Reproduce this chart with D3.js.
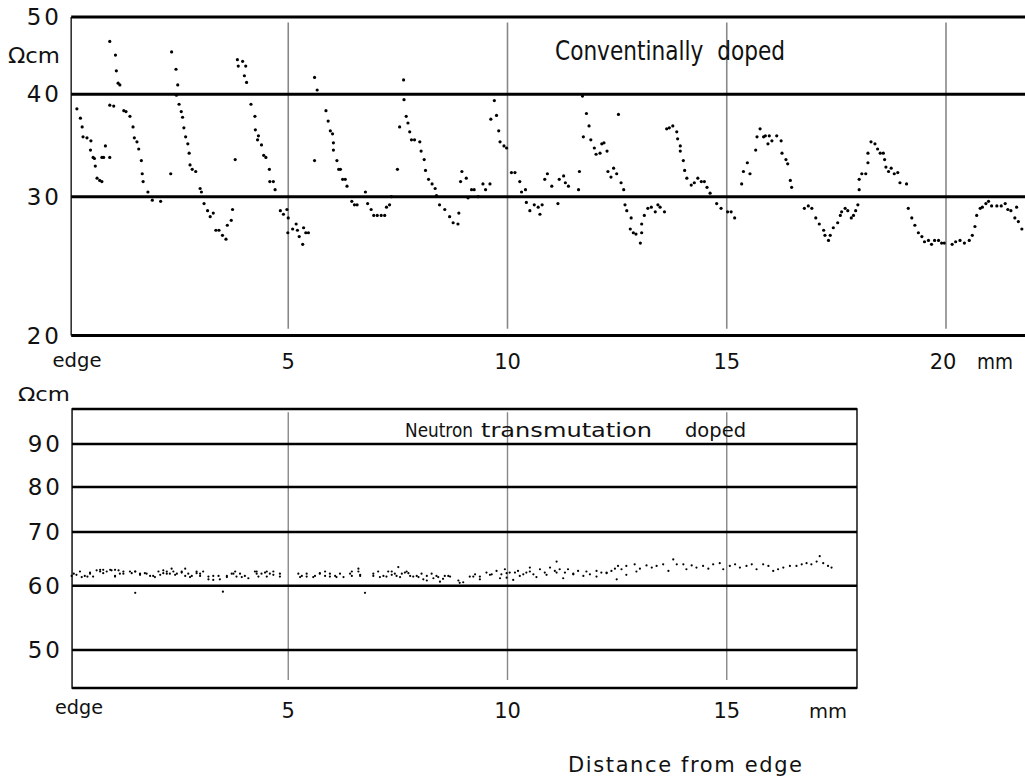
<!DOCTYPE html>
<html>
<head>
<meta charset="utf-8">
<script src="https://cdn.jsdelivr.net/npm/d3@7"></script>
<style>
  body { margin: 0; background: #fff; }
  svg text { font-family: "DejaVu Sans", sans-serif; fill: #111; }
</style>
</head>
<body>
<div id="chart"></div>
<script>
// Conventionally doped crystal: distance from edge (mm) and resistivity (Ωcm)
const convX = [0.18, 0.26, 0.30, 0.32, 0.41, 0.50, 0.49, 0.55, 0.58, 0.60, 0.64, 0.70, 0.75, 0.75, 0.79, 0.83, 0.93,
  0.93, 1.06, 1.08, 1.12, 1.16, 0.93, 1.02, 1.25, 1.30, 1.39, 1.46, 1.49, 1.55, 1.59, 1.65, 1.67, 1.69, 1.80, 1.90, 2.09,
  2.32, 2.34, 2.44, 2.48, 2.45, 2.51, 2.56, 2.59, 2.62, 2.66, 2.71, 2.74, 2.76, 2.81, 2.89, 2.99, 3.02, 3.08, 3.16, 3.22,
  3.29, 3.35, 3.42, 3.50, 3.58, 3.61, 3.70, 3.73, 3.79, 3.84, 3.86, 3.96, 4.03, 4.00, 4.05, 4.15, 4.24, 4.25, 4.32, 4.30,
  4.39, 4.44, 4.49, 4.57, 4.58, 4.66, 4.70, 4.82, 4.89, 4.97, 4.99, 5.00, 5.10, 5.18, 5.21, 5.25, 5.33, 5.35, 5.40, 5.46,
  5.60, 5.66, 5.60, 5.86, 5.91, 5.96, 6.01, 6.03, 6.03, 6.11, 6.15, 6.19, 6.24, 6.30, 6.34, 6.45, 6.51, 6.57, 6.76, 6.81,
  6.89, 6.95, 7.03, 7.12, 7.20, 7.24, 7.31, 7.35, 7.49, 7.54, 7.63, 7.64, 7.69, 7.73, 7.77, 7.81, 7.88, 8.00, 8.03, 8.10,
  8.13, 8.20, 8.28, 8.35, 8.38, 8.45, 8.57, 8.68, 8.76, 8.87, 8.89, 8.93, 8.96, 9.06, 9.10, 9.18, 9.24, 9.33, 9.44, 9.50,
  9.60, 9.62, 9.70, 9.75, 9.80, 9.83, 9.92, 9.98, 10.09, 10.17, 10.28, 10.32, 10.41, 10.43, 10.51, 10.61, 10.70, 10.74,
  10.79, 10.85, 10.91, 11.01, 11.15, 11.18, 11.28, 11.32, 11.39, 11.62, 11.64, 11.73, 11.71, 11.80, 11.86, 11.90, 11.98,
  12.02, 12.11, 12.15, 12.20, 12.27, 12.29, 12.36, 12.42, 12.49, 12.53, 12.59, 12.65, 12.68, 12.72, 12.82, 12.80, 12.87,
  12.93, 13.03, 13.06, 13.06, 13.12, 13.20, 13.28, 13.37, 13.43, 13.48, 13.58, 13.63, 13.69, 13.77, 13.86, 13.88, 13.94,
  13.94, 14.01, 14.04, 14.09, 14.19, 14.26, 14.34, 14.42, 14.49, 14.55, 14.62, 14.77, 14.87, 15.02, 15.10, 15.18, 15.34,
  15.38, 15.47, 15.53, 15.66, 15.69, 15.76, 15.84, 15.88, 15.94, 15.97, 16.03, 16.14, 16.24, 16.26, 16.35, 16.39, 16.45,
  16.48, 16.77, 16.86, 16.94, 17.03, 17.11, 17.21, 17.24, 17.32, 17.36, 17.43, 17.53, 17.59, 17.62, 17.70, 17.76, 17.84,
  17.89, 17.94, 17.99, 18.02, 18.02, 18.08, 18.17, 18.22, 18.22, 18.29, 18.38, 18.44, 18.50, 18.57, 18.60, 18.63, 18.69,
  18.75, 18.82, 18.90, 18.95, 19.10, 19.14, 19.22, 19.29, 19.37, 19.45, 19.51, 19.60, 19.67, 19.74, 19.83, 19.90, 19.96,
  20.14, 20.22, 20.32, 20.42, 20.53, 20.60, 20.66, 20.70, 20.78, 20.83, 20.91, 20.97, 21.04, 21.16, 21.26, 21.35, 21.41,
  21.48, 21.57, 21.61, 21.65, 21.73];
const convY = [38.4, 37.4, 36.5, 35.5, 35.4, 35.1, 34.2, 33.5, 33.4, 32.7, 31.6, 31.4, 31.3, 33.5, 33.5, 34.6, 33.5,
  46.6, 44.8, 42.8, 41.3, 41.1, 38.8, 38.7, 38.2, 38.1, 37.6, 36.5, 35.4, 35.0, 34.3, 33.2, 32.0, 31.3, 30.4, 29.7, 29.6,
  32.0, 45.2, 43.0, 41.1, 39.9, 38.9, 38.1, 37.5, 36.4, 35.5, 34.8, 33.9, 32.8, 32.4, 32.2, 30.7, 30.4, 29.4, 28.8, 28.3,
  28.6, 27.2, 27.2, 26.8, 26.5, 27.6, 28.0, 28.9, 33.3, 44.2, 43.4, 44.0, 43.4, 42.2, 41.4, 38.9, 37.6, 36.2, 35.6, 35.2,
  34.7, 33.7, 33.5, 32.4, 31.3, 31.3, 30.6, 28.8, 28.5, 28.9, 27.0, 28.2, 27.3, 27.7, 27.2, 26.7, 26.1, 27.4, 27.0, 27.0,
  42.0, 40.5, 33.2, 38.2, 37.1, 36.1, 35.8, 34.9, 34.2, 33.2, 32.4, 32.4, 31.5, 31.5, 30.9, 29.6, 29.3, 29.3, 30.4, 29.4,
  28.9, 28.4, 28.4, 28.4, 28.4, 29.1, 29.3, 30.0, 32.4, 36.5, 41.7, 39.4, 37.6, 36.9, 36.0, 35.2, 35.2, 35.0, 34.1, 33.3,
  32.3, 31.5, 31.1, 30.7, 30.1, 29.3, 28.9, 28.3, 27.8, 27.7, 28.6, 31.3, 32.2, 31.6, 29.9, 30.6, 30.6, 30.0, 31.1, 30.6,
  31.1, 37.3, 39.3, 37.7, 36.1, 35.0, 34.6, 34.4, 32.1, 32.1, 31.3, 30.4, 30.6, 29.5, 28.8, 29.3, 29.1, 28.5,
  29.3, 31.5, 32.0, 30.9, 29.4, 31.5, 31.8, 31.2, 30.9, 30.6, 32.2, 35.5, 39.8, 37.9, 36.6, 35.2, 34.4,
  33.8, 33.9, 34.8, 34.9, 34.1, 32.2, 31.7, 32.5, 32.0, 37.8, 31.2, 30.6, 29.3, 28.8, 28.2, 27.3, 27.0,
  26.9, 26.2, 27.0, 27.7, 28.4, 29.0, 29.1, 28.7, 29.3, 29.1, 28.7, 36.3, 36.4, 36.6, 36.0, 35.3, 34.6,
  34.1, 33.2, 32.3, 31.6, 31.0, 31.2, 31.6, 31.3, 31.3, 30.8, 30.3, 29.4, 29.0, 28.7, 28.7, 28.2, 31.1,
  32.2, 33.0, 32.0, 34.2, 35.5, 36.3, 35.5, 35.6, 34.8, 35.6, 35.1, 35.6, 35.1, 33.9, 33.3, 32.9, 31.4,
  30.8, 29.0, 29.2, 29.0, 28.2, 27.7, 27.2, 26.8, 26.4, 26.8, 27.4, 27.8, 28.4, 28.7, 29.0, 28.8, 28.2,
  28.4, 28.8, 29.3, 30.6, 31.5, 32.0, 32.0, 33.0, 33.9, 35.0, 34.8, 34.3, 33.9, 33.9, 33.3, 32.6, 32.2,
  32.5, 32.0, 32.1, 31.2, 31.1, 29.0, 28.2, 27.6, 27.0, 26.7, 26.3, 26.4, 26.1, 26.4, 26.4, 26.2, 26.2,
  26.1, 26.3, 26.4, 26.2, 26.4, 26.8, 27.5, 28.4, 29.0, 29.1, 29.4, 29.6, 29.2, 29.2, 29.2, 29.4, 28.9,
  28.8, 28.2, 29.1, 27.9, 27.3];

// Neutron transmutation doped crystal (upper scan row)
const ntdX = [0.11, 0.25, 0.36, 0.48, 0.63, 0.71, 0.78, 0.86, 0.97, 1.05, 1.05, 1.13, 1.24, 1.39, 1.51, 1.51, 1.62, 1.77,
  1.92, 2.04, 2.15, 2.23, 2.34, 2.38, 2.46, 2.57, 2.65, 2.72, 2.80, 2.91, 2.99, 3.18, 3.29, 3.41, 3.51, 3.60, 3.71, 3.79,
  3.90, 4.01, 4.24, 4.28, 4.39, 4.51, 4.58, 4.66, 4.81, 5.23, 5.31, 5.42, 5.61, 5.72, 5.84, 5.95, 6.07, 6.18, 6.41, 6.45,
  6.60, 6.64, 6.75, 6.94, 7.05, 7.17, 7.28, 7.36, 7.43, 7.51, 7.59, 7.70, 7.78, 7.93, 8.04, 8.16, 8.27, 8.38, 8.53, 8.65,
  8.69, 8.88, 8.99, 9.14, 9.26, 9.37, 9.52, 9.64, 9.75, 9.86, 9.94, 9.98, 10.05, 10.17, 10.24, 10.36, 10.43, 10.51,
  10.59, 10.74, 10.85, 10.97, 11.08, 11.12, 11.19, 11.31, 11.38, 11.50, 11.61, 11.73, 11.88, 12.03, 12.14, 12.26, 12.37,
  12.45, 12.52, 12.60, 12.71, 12.90, 13.02, 13.17, 13.29, 13.40, 13.55, 13.67, 13.78, 13.86, 14.01, 14.08, 14.20, 14.31,
  14.46, 14.58, 14.69, 14.84, 14.92, 15.07, 15.19, 15.30, 15.45, 15.57, 15.68, 15.83, 15.95, 16.06, 16.17, 16.29, 16.44,
  16.59, 16.71, 16.82, 16.93, 17.05, 17.12, 17.20, 17.31, 17.39];
const ntdY = [62.1, 62.5, 61.7, 62.1, 62.7, 62.8, 62.8, 62.5, 62.7, 62.8, 61.6, 62.7, 62.1, 62.5, 62.5, 58.8, 62.1, 62.1,
  61.7, 62.5, 62.7, 62.1, 63.0, 62.5, 62.1, 62.5, 63.0, 62.1, 61.7, 62.5, 62.1, 61.6, 61.7, 61.7, 59.0, 61.7, 62.1, 62.5,
  62.1, 61.7, 62.5, 62.1, 62.1, 62.5, 62.1, 62.5, 62.1, 62.1, 61.7, 62.1, 61.7, 62.1, 62.5, 62.1, 61.7, 62.1, 62.1, 62.5,
  63.0, 61.7, 58.8, 62.1, 62.5, 61.7, 62.5, 62.5, 62.1, 63.3, 62.1, 62.5, 61.7, 61.7, 62.1, 61.7, 62.1, 61.7, 61.2, 61.7,
  61.6, 60.9, 60.6, 61.6, 62.0, 61.6, 62.3, 62.0, 62.6, 62.0, 62.9, 61.4, 62.3, 62.3, 62.6, 62.0, 62.3, 63.2,
  62.0, 62.9, 62.3, 63.2, 62.6, 64.3, 62.9, 62.3, 62.9, 62.0, 62.6, 61.7, 62.0, 62.6, 62.3, 62.3, 62.6,
  63.0, 63.5, 62.9, 63.5, 63.8, 63.0, 63.6, 63.2, 63.5, 63.8, 62.6, 64.7, 63.8, 63.8, 62.9, 63.6, 63.2,
  63.5, 63.0, 63.8, 64.0, 62.9, 63.5, 63.8, 63.2, 63.5, 63.8, 62.9, 63.8, 63.5, 62.6, 62.9, 63.2, 63.5,
  63.5, 63.8, 64.0, 63.8, 64.3, 65.3, 64.0, 63.5, 63.2];

// second (lower) scan row of the same crystal
const ntdX2 = [0.06, 0.17, 0.29, 0.42, 0.48, 0.55, 0.71, 0.78, 0.94, 1.05, 1.16, 1.24, 1.43, 1.51, 1.62, 1.73, 1.85, 1.96,
  2.08, 2.15, 2.23, 2.30, 2.42, 2.57, 2.65, 2.76, 2.91, 2.99, 3.06, 3.18, 3.29, 3.44, 3.60, 3.75, 3.82, 3.94, 4.09, 4.28,
  4.32, 4.47, 4.51, 4.66, 4.81, 5.27, 5.42, 5.57, 5.72, 5.84, 5.95, 6.10, 6.26, 6.45, 6.60, 6.64, 6.94, 7.09, 7.24, 7.36,
  7.47, 7.55, 7.66, 7.74, 7.85, 7.97, 8.08, 8.16, 8.31, 8.42, 8.57, 8.46, 8.91, 9.22, 9.37, 9.60, 9.83, 9.98, 10.13, 10.28,
  10.51, 10.66, 10.89, 11.12, 11.27, 11.50, 11.80, 12.03, 12.26, 12.49, 12.71, 12.94];
const ntdY2 = [61.7, 61.9, 61.5, 61.6, 62.3, 61.6, 62.5, 62.2, 62.8, 61.7, 62.1, 62.5, 62.2, 62.5, 61.9, 62.2, 61.7, 61.5,
  61.9, 62.2, 62.5, 62.1, 61.9, 62.3, 61.7, 61.5, 62.2, 61.7, 62.5, 61.1, 61.0, 61.1, 61.5, 62.1, 61.6, 61.5, 61.3, 62.5,
  61.6, 62.3, 61.6, 61.9, 61.6, 61.5, 61.6, 61.5, 62.2, 61.7, 61.6, 61.5, 61.5, 61.7, 62.5, 61.9, 61.7, 61.5, 61.6, 61.9,
  61.7, 61.5, 62.3, 62.2, 61.6, 61.5, 61.1, 60.9, 61.3, 61.5, 61.7, 60.7, 60.5, 61.6, 61.1, 61.9, 61.3, 62.2, 61.0, 61.7,
  62.5, 61.5, 61.9, 62.3, 61.3, 62.1, 62.5, 61.6, 62.2, 61.1, 61.9, 62.5];

const topTicks = [20, 30, 40, 50];
const bottomTicks = [50, 60, 70, 80, 90];
const topXTicks = [5, 10, 15, 20];
const bottomXTicks = [5, 10, 15];

const width = 1025, height = 780;
const svg = d3.select('#chart').append('svg')
    .attr('width', width)
    .attr('height', height);

// shared distance scale (mm)
const x = d3.scaleLinear().domain([0, 20]).range([69, 946]);
// log resistivity scales, pinned to the printed grid lines
const yTop = d3.scaleLog().domain([20, 30, 40, 50]).range([335.5, 196.7, 94.3, 17]);
const yBot = d3.scaleLog().domain([45, 50, 60, 70, 80, 90, 100]).range([688, 650, 585.7, 532, 487, 444, 409]);

const topLeft = x(0.05), topRight = width;
const botLeft = x(0.07), botRight = x(17.97);

function addText(g, str, px, py, size, anchor, len, adjust) {
    const t = g.append('text')
        .attr('x', px)
        .attr('y', py)
        .attr('text-anchor', anchor || 'middle')
        .style('font-size', size + 'px')
        .text(str);
    if (len) t.attr('textLength', len).attr('lengthAdjust', adjust || 'spacingAndGlyphs');
    return t;
}

// ---------- top panel ----------
const topG = svg.append('g');

topG.selectAll('.vgrid')
    .data(topXTicks)
    .join('line')
    .attr('x1', d => x(d)).attr('x2', d => x(d))
    .attr('y1', yTop(49.2)).attr('y2', yTop(20.4))
    .attr('stroke', '#888').attr('stroke-width', 1.6);

topG.append('line')
    .attr('x1', topLeft).attr('x2', topLeft)
    .attr('y1', yTop(50)).attr('y2', yTop(20))
    .attr('stroke', '#333').attr('stroke-width', 1.6);

topG.selectAll('.hgrid')
    .data(topTicks)
    .join('line')
    .attr('x1', topLeft).attr('x2', topRight)
    .attr('y1', d => yTop(d)).attr('y2', d => yTop(d))
    .attr('stroke', '#000').attr('stroke-width', 3);

topG.selectAll('.dot')
    .data(d3.zip(convX, convY))
    .join('circle')
    .attr('cx', d => x(d[0]))
    .attr('cy', d => yTop(d[1]))
    .attr('r', 1.6)
    .attr('fill', '#000');

topTicks.forEach(v => {
    addText(topG, String(v), 62, yTop(v) + 8, 23, 'end').style('letter-spacing', '3px');
});
addText(topG, 'Ωcm', 8, 63, 21, 'start', 52);
addText(topG, 'edge', 77, 367, 20, 'middle', 49);
topXTicks.forEach(v => addText(topG, String(v), x(v) - (v === 20 ? 3 : 0), 369, 21));
addText(topG, 'mm', 995, 369, 21, 'middle', 36);
addText(topG, 'Conventinally  doped', 555, 60, 27, 'start', 230)
    .style('white-space', 'pre');

// ---------- bottom panel ----------
const botG = svg.append('g');

botG.selectAll('.vgrid')
    .data(bottomXTicks)
    .join('line')
    .attr('x1', d => x(d)).attr('x2', d => x(d))
    .attr('y1', yBot(99)).attr('y2', yBot(46))
    .attr('stroke', '#888').attr('stroke-width', 1.4);

botG.append('rect')
    .attr('x', botLeft).attr('y', yBot(100))
    .attr('width', botRight - botLeft)
    .attr('height', yBot(45) - yBot(100))
    .attr('fill', 'none')
    .attr('stroke', '#222').attr('stroke-width', 1.6);

botG.selectAll('.hgrid')
    .data(bottomTicks.concat([45, 100]))
    .join('line')
    .attr('x1', botLeft).attr('x2', botRight)
    .attr('y1', d => yBot(d)).attr('y2', d => yBot(d))
    .attr('stroke', '#000').attr('stroke-width', 2.4);

botG.selectAll('.dot')
    .data(d3.zip(ntdX, ntdY).concat(d3.zip(ntdX2, ntdY2)))
    .join('circle')
    .attr('cx', d => x(d[0]))
    .attr('cy', d => yBot(d[1]))
    .attr('r', 1.1)
    .attr('fill', '#000');

bottomTicks.forEach(v => {
    addText(botG, String(v), 63, yBot(v) + 8, 23, 'end').style('letter-spacing', '3px');
});
addText(botG, 'Ωcm', 18, 401, 20, 'start', 52);
addText(botG, 'edge', 79, 714, 20, 'middle', 48);
bottomXTicks.forEach(v => addText(botG, String(v), x(v), 718, 21));
addText(botG, 'mm', 828, 718, 20, 'middle', 38);
addText(botG, 'Neutron', 405, 437, 19, 'start', 68);
addText(botG, 'transmutation', 481, 437, 19, 'start', 171);
addText(botG, 'doped', 685, 437, 19, 'start', 61);
addText(botG, 'Distance from edge', 568, 772, 21, 'start', 234, 'spacing');
</script>
</body>
</html>
